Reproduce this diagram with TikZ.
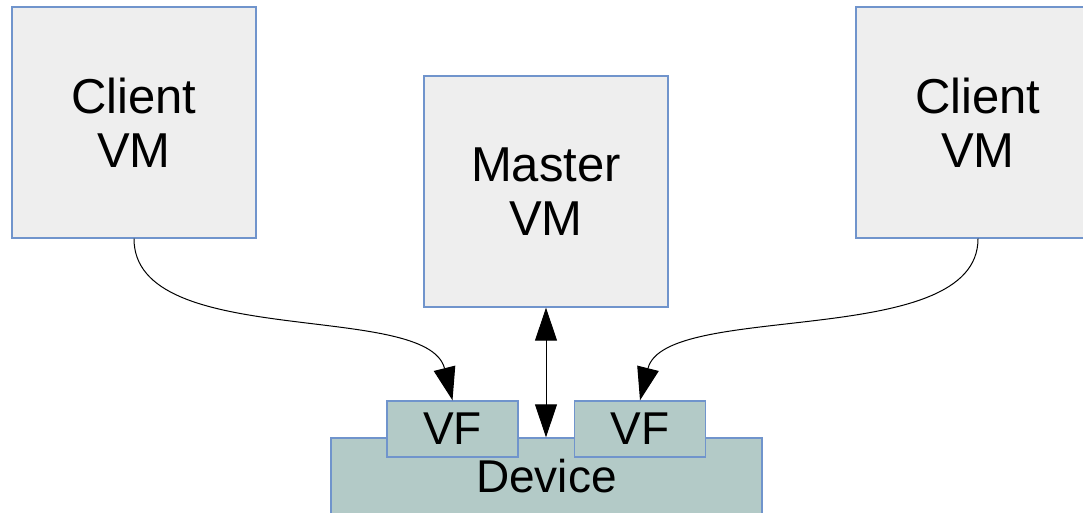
\documentclass[tikz,border=0pt]{standalone}
\usepackage{fontspec}
\setmainfont{Liberation Sans}
\usetikzlibrary{arrows.meta}
\definecolor{frame}{HTML}{7094CC}
\definecolor{vmfill}{HTML}{EEEEEE}
\definecolor{devfill}{HTML}{B3CAC7}
\tikzset{
  vm/.style={draw=frame,line width=1.4pt,fill=vmfill,inner sep=0pt,
             minimum width=244pt,minimum height=231pt,align=center,
             font=\fontsize{49}{54}\selectfont},
  dev/.style={draw=frame,line width=1.4pt,fill=devfill,inner sep=0pt,align=center,
              font=\fontsize{46}{50}\selectfont},
  vf/.style={dev,minimum width=131pt,minimum height=56pt},
  ar/.style={-{Triangle[length=33pt,width=22pt]},line width=1pt},
  dar/.style={{Triangle[length=33pt,width=22pt]}-{Triangle[length=33pt,width=22pt]},line width=1pt},
}
\begin{document}
\begin{tikzpicture}[x=1pt,y=-1pt]
\useasboundingbox (0,0) rectangle (1083,512);
\clip (0,0) rectangle (1083,512);
% virtual machines
\node[vm] (cl) at (134,122.5) {Client\\VM};
\node[vm] (ms) at (546,191.5) {Master\\VM};
\node[vm] (cr) at (978,122.5) {Client\\VM};
% device with its functions
\node[dev,minimum width=431pt,minimum height=76pt] (dv) at (546.5,476) {Device};
\node[vf] (vfl) at (452.5,429) {VF};
\node[vf] (vfr) at (640,429) {VF};
\draw[ar] (cl.south) .. controls +(0,112) and +(-25,-100) .. (vfl.north);
\draw[ar] (cr.south) .. controls +(0,112) and +(25,-100) .. (vfr.north);
\draw[dar] (ms.south) -- (ms.south |- dv.north);
\end{tikzpicture}
\end{document}
